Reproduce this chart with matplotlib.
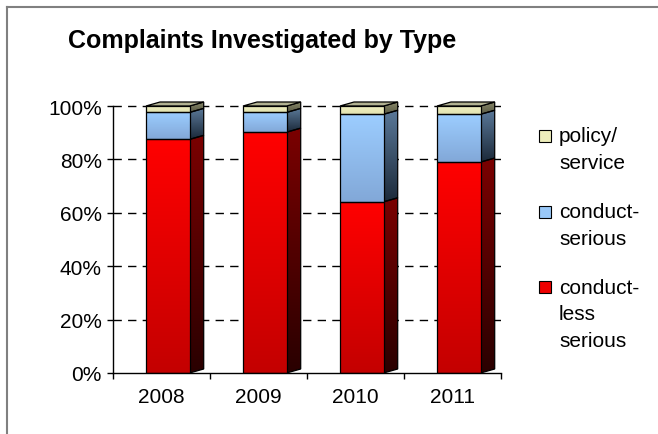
import numpy as np
import matplotlib
matplotlib.use("Agg")
import matplotlib.pyplot as plt
from matplotlib.patches import Polygon, Rectangle
from matplotlib.lines import Line2D
from matplotlib.colors import to_rgb

plt.rcParams['font.family'] = ['Liberation Sans', 'DejaVu Sans']

years = ['2008', '2009', '2010', '2011']
less_serious = [87.5, 90.2, 64.1, 79.0]
serious = [10.1, 7.4, 32.8, 17.9]
policy = [2.4, 2.4, 3.1, 3.1]

W, H = 658, 435
fig = plt.figure(figsize=(W / 100, H / 100), dpi=100)

# axes: 0% at y=374px, 100% at y=107px, ylim up to 103 so the 3d caps show
y0px, y100px = 374, 107
ppu = (y0px - y100px) / 100.0
ytop = 103
ax = fig.add_axes([113 / W, (H - y0px) / H, 388 / W, (ytop * ppu) / H])
ax.set_xlim(0, 4)
ax.set_ylim(0, ytop)

for g in [20, 40, 60, 80, 100]:
    ax.axhline(g, color='black', lw=1, linestyle=(0, (6, 4.5)), zorder=0.5)

fx0, fx1 = 0.34, 0.79   # front face within category
dx, dy = 0.145, 1.5      # depth offset


def face(verts, ctop, cbot, z):
    c1 = np.array(to_rgb(ctop))
    c2 = np.array(to_rgb(cbot))
    t = np.linspace(0, 1, 64)[:, None]
    img = (c1 * (1 - t) + c2 * t).reshape(64, 1, 3)
    xs = [v[0] for v in verts]
    ys = [v[1] for v in verts]
    im = ax.imshow(img, extent=(min(xs), max(xs), min(ys), max(ys)),
                   origin='upper', aspect='auto', interpolation='bilinear', zorder=z)
    edge = Polygon(verts, closed=True, fc='none', ec='black', lw=0.9, zorder=z + 0.1)
    ax.add_patch(edge)
    im.set_clip_path(edge)


styles = [
    (less_serious, ('#ff0000', '#c40000'), ('#7a0000', '#2a0000')),
    (serious, ('#9ccdff', '#82a8d8'), ('#5a7898', '#1c2a3a')),
    (policy, ('#f2f2c4', '#e2e2b0'), ('#8c8c6c', '#5a5a44')),
]

for i in range(len(years)):
    base = 0.0
    x0, x1 = i + fx0, i + fx1
    for vals, fcol, scol in styles:
        top = base + vals[i]
        face([(x0, base), (x1, base), (x1, top), (x0, top)], fcol[0], fcol[1], 3)
        face([(x1, base), (x1 + dx, base + dy), (x1 + dx, top + dy), (x1, top)],
             scol[0], scol[1], 2)
        base = top
    face([(x0, base), (x1, base), (x1 + dx, base + dy), (x0 + dx, base + dy)],
         '#a8a888', '#b8b898', 3)

ax.set_xlim(0, 4)
ax.set_ylim(0, ytop)

for s in ['top', 'right']:
    ax.spines[s].set_visible(False)
ax.spines['left'].set_bounds(0, 100)
ax.spines['left'].set_linewidth(1)
ax.spines['bottom'].set_linewidth(1)
ax.spines['left'].set_zorder(5)
ax.spines['bottom'].set_zorder(5)

ax.set_yticks([0, 20, 40, 60, 80, 100])
ax.set_yticklabels(['0%', '20%', '40%', '60%', '80%', '100%'])
ax.tick_params(axis='y', direction='out', length=4.5, width=1, pad=3.5, labelsize=15)

ax.set_xticks([0, 1, 2, 3, 4])
ax.set_xticklabels([])
ax.set_xticks([i + 0.5 for i in range(len(years))], minor=True)
ax.set_xticklabels(years, minor=True)
ax.tick_params(axis='x', which='major', direction='out', length=4.5, width=1)
ax.tick_params(axis='x', which='minor', length=0, pad=10, labelsize=15)

fig.text(68 / W, 1 - 48 / H, 'Complaints Investigated by Type', fontsize=18,
         fontweight='bold', va='baseline', ha='left')

# legend
leg = [
    ('#eeeebb', ['policy/', 'service'], 137),
    ('#99c8f8', ['conduct-', 'serious'], 213),
    ('#ee0000', ['conduct-', 'less', 'serious'], 288),
]
for col, lines, ypx in leg:
    sq = 12
    fig.patches.append(Rectangle((539 / W, 1 - (ypx + sq / 2) / H), sq / W, sq / H,
                                 transform=fig.transFigure, fc=col, ec='black', lw=0.8))
    for k, ln in enumerate(lines):
        fig.text(559 / W, 1 - (ypx + k * 27) / H, ln, fontsize=15, va='center', ha='left')

# chart border (partly off the picture)
fig.lines.append(Line2D([6.5 / W, 6.5 / W], [0, 1 - 7.5 / H], transform=fig.transFigure,
                        color='#808080', lw=1.5))
fig.lines.append(Line2D([6.5 / W, 1], [1 - 7.5 / H, 1 - 7.5 / H], transform=fig.transFigure,
                        color='#808080', lw=1.5))

fig.savefig('out.png', dpi=100)
